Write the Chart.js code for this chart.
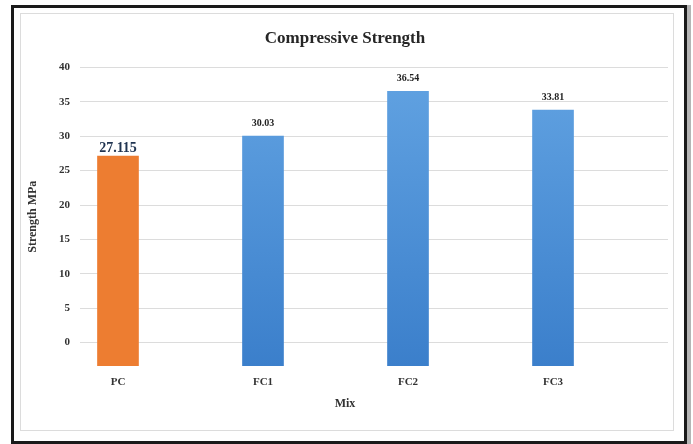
<!DOCTYPE html>
<html>
<head>
<meta charset="utf-8">
<script src="https://cdn.jsdelivr.net/npm/chart.js@4.4.1/dist/chart.umd.min.js"></script>
<style>
  html, body { margin: 0; padding: 0; background: #fff; }
  #wrap { position: relative; width: 693px; height: 444px; overflow: hidden; }
  .frame { position: absolute; left: 11px; top: 5px; width: 670px; height: 433px; border: 3px solid #1a1a1a; box-shadow: 4px 0 0 #b5b5b5; }
  .inner { position: absolute; left: 20px; top: 13px; width: 652px; height: 416px; border: 1px solid #dcdcdc; }
  canvas { position: absolute; left: 0; top: 0; }
</style>
</head>
<body>
<div id="wrap">
  <div class="frame"></div>
  <div class="inner"></div>
  <canvas id="chart" width="693" height="444"></canvas>
</div>
<script>
const categories = ['PC', 'FC1', 'FC2', 'FC3']
const strengths = [27.115, 30.03, 36.54, 33.81]
const valueLabels = ['27.115', '30.03', '36.54', '33.81']
const yTicks = [0, 5, 10, 15, 20, 25, 30, 35, 40]

const serif = "'Liberation Serif', 'Times New Roman', serif"
const axisBottom = -3.4

// PC is orange, the fly-ash mixes get a blue gradient like the Excel original
function barFill(context) {
  if (context.dataIndex === 0) return '#ED7D31'
  const area = context.chart.chartArea
  if (!area) return '#5B9BD5'
  const g = context.chart.ctx.createLinearGradient(0, area.top, 0, area.bottom)
  g.addColorStop(0, '#62a3e2')
  g.addColorStop(1, '#3b7fcb')
  return g
}

const valueLabelPlugin = {
  id: 'valueLabels',
  afterDatasetsDraw(chart) {
    const { ctx } = chart
    chart.getDatasetMeta(0).data.forEach((bar, i) => {
      ctx.save()
      ctx.textAlign = 'center'
      ctx.textBaseline = 'bottom'
      if (i === 0) {
        ctx.font = 'bold 14px ' + serif
        ctx.fillStyle = '#1f3350'
        ctx.fillText(valueLabels[i], bar.x, bar.y - 1)
      } else {
        ctx.font = 'bold 10px ' + serif
        ctx.fillStyle = '#222'
        ctx.fillText(valueLabels[i], bar.x, bar.y - 8)
      }
      ctx.restore()
    })
  }
}

new Chart(document.getElementById('chart').getContext('2d'), {
  type: 'bar',
  data: {
    datasets: [{
      label: 'Strength',
      data: strengths.map((v, i) => ({ x: i, y: v })),
      backgroundColor: barFill,
      base: axisBottom,
      barThickness: 41
    }]
  },
  plugins: [valueLabelPlugin],
  options: {
    responsive: false,
    animation: false,
    layout: { padding: { left: 22, right: 25, top: 18, bottom: 32.8 } },
    plugins: {
      legend: { display: false },
      tooltip: { enabled: false },
      title: {
        display: true,
        text: 'Compressive Strength',
        color: '#262626',
        font: { family: serif, size: 17, weight: 'bold' },
        padding: { top: 10, bottom: 19 }
      },
      subtitle: {
        display: true,
        position: 'bottom',
        text: 'Mix',
        color: '#333',
        font: { family: serif, size: 12, weight: 'bold' },
        padding: { top: 6.8, bottom: 0 }
      }
    },
    scales: {
      x: {
        type: 'linear',
        offset: false,
        min: -0.262,
        max: 3.793,
        grid: { display: false, drawTicks: false },
        border: { display: false },
        afterBuildTicks: s => { s.ticks = categories.map((c, i) => ({ value: i })) },
        afterFit: s => { s.height = 24 },
        ticks: {
          autoSkip: false,
          maxRotation: 0,
          padding: 10,
          color: '#333',
          font: { family: serif, size: 11, weight: 'bold' },
          callback: v => categories[v]
        }
      },
      y: {
        min: axisBottom,
        max: 40,
        z: 1,
        afterBuildTicks: s => { s.ticks = yTicks.map(v => ({ value: v })) },
        afterFit: s => { s.width = 58 },
        grid: { color: '#dcdcdc', drawTicks: false },
        border: { display: false },
        ticks: {
          padding: 10,
          color: '#333',
          font: { family: serif, size: 11, weight: 'bold' }
        },
        title: {
          display: true,
          text: 'Strength MPa',
          color: '#333',
          font: { family: serif, size: 12, weight: 'bold' },
          padding: { top: 4, bottom: 4 }
        }
      }
    }
  }
})
</script>
</body>
</html>
